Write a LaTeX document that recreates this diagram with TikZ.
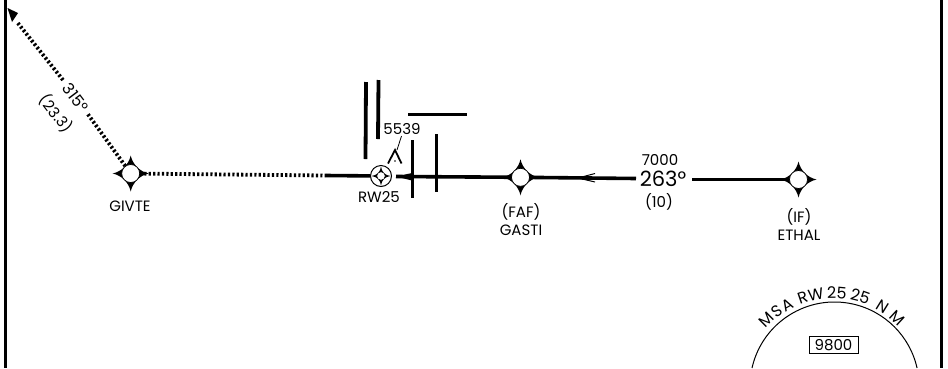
\documentclass[tikz,border=0pt]{standalone}
\usepackage{fontspec}
\setmainfont{Poppins}
\tikzset{
  x=1pt,y=-1pt,
  lab/.style={inner sep=0pt,align=center,font=\fontsize{15}{18}\selectfont},
  heavy/.style={line width=3.6pt,black},
  dots/.style={line width=3.8pt,dash pattern=on 2.2pt off 2.2pt},
  bar/.style={line width=3.8pt},
  fixwp/.style={circle,inner sep=0pt,minimum size=18pt},
}
\newcommand{\wpt}[3]{%
  \node[fixwp] (#1) at (#2,#3) {};
  \fill[black] (#2-18,#3) .. controls (#2-9,#3-2) and (#2-2,#3-9) .. (#2,#3-18)
    .. controls (#2+2,#3-9) and (#2+9,#3-2) .. (#2+18,#3)
    .. controls (#2+9,#3+2) and (#2+2,#3+9) .. (#2,#3+18)
    .. controls (#2-2,#3+9) and (#2-9,#3+2) .. (#2-18,#3) -- cycle;
  \draw[fill=white,line width=.7pt] (#2,#3) circle (9);
}
\begin{document}
\begin{tikzpicture}
\useasboundingbox (0,0) rectangle (948,368);
% frame
\draw[line width=2.6pt] (5.5,0) -- (5.5,368);
\draw[line width=2.6pt] (941.5,0) -- (941.5,368);
% waypoints
\wpt{givte}{130.7}{173.5}
\wpt{gasti}{520.5}{177.3}
\wpt{ethal}{798.5}{179.5}
\node[circle,inner sep=0pt,minimum size=21pt] (rw) at (381,176) {};
% named free ends
\coordinate (tip) at (7.5,8);
\coordinate (d1) at (17,22);
\coordinate (d2) at (63,80);
\coordinate (d3) at (87,113);
\coordinate (dotend) at (326,175.5);
\coordinate (rwR) at (396,176.5);
\coordinate (gapL) at (636,178.5);
\coordinate (gapR) at (692,179.5);
\coordinate (chev) at (578,178);
% legs
\draw[dots] (givte) -- (dotend);
\draw[dots] (givte) -- (d3);
\draw[dots] (d2) -- (d1);
\fill (tip) -- (18,13) -- (12,22) -- cycle;
\draw[heavy] (dotend) -- (rw);
\draw[heavy] (rwR) -- (gasti);
\fill (rwR) -- (412,173) -- (412,180.5) -- cycle;
\draw[heavy] (gasti) -- (gapL);
\draw[heavy] (gapR) -- (ethal);
\draw[line width=1pt] (chev) -- (595,173.5) (chev) -- (595,182);
% bars
\draw[bar] (366,82) -- (365.5,159);
\draw[bar] (378.5,80) -- (378,139);
\draw[bar] (408,114.5) -- (467,114.5);
\draw[bar] (412.5,140) -- (412.5,198);
\draw[bar] (436.5,134) -- (436.5,192);
% threshold symbol
\draw[line width=1pt,fill=white] (381,176) circle (10.5);
\fill (381,166.5) .. controls (381.7,172) and (385,175.3) .. (390.5,176)
  .. controls (385,176.7) and (381.7,180) .. (381,185.5)
  .. controls (380.3,180) and (377,176.7) .. (371.5,176)
  .. controls (377,175.3) and (380.3,172) .. (381,166.5) -- cycle;
\draw[fill=white,line width=.5pt] (381,176) circle (4.2);
% spot elevation
\draw[line width=1.8pt] (388,163.5) -- (395,150) -- (401.5,163.5);
\fill (395,161) circle (.8);
\draw[line width=.8pt] (401.5,136) -- (397,150);
% labels
\node[lab] (l5539) at (402,129) {5539};
\node[lab] (lrw) at (379,196.7) {RW25};
\node[lab] (lgivte) at (130,206.7) {GIVTE};
\node[lab] (lgasti) at (521,220) {(FAF)\\GASTI};
\node[lab] (lethal) at (799,224) {(IF)\\ETHAL};
\node[lab] (l7000) at (660,160) {7000};
\node[inner sep=0pt,font=\fontsize{21}{21}\selectfont] (l263) at (663,179) {263°};
\node[lab] (l10) at (659,202) {(10)};
\node[lab,rotate=-53,font=\fontsize{16}{18}\selectfont] (l315) at (75.5,97.5) {315°};
\node[lab,rotate=-53] (l233) at (56,113.5) {(23.3)};
% MSA
\draw[line width=1pt] (752,368) arc[start angle=192.7,end angle=347.3,radius=84.6];
\node[draw,line width=.7pt,inner sep=0pt,minimum width=49pt,minimum height=17pt,font=\fontsize{15}{15}\selectfont] (box) at (833.5,344.7) {9800};
\foreach \t/\a in {M/-44.9,S/-36.5,A/-29.2,R/-18.9,W/-10.5,2/-0.8,5/5.3,2/13.9,5/19.7,N/31.7,M/42.8}{
  \node[inner sep=0pt,rotate=-\a,font=\fontsize{16}{16}\selectfont] at ({833+94*sin(\a)},{386.6-94*cos(\a)}) {\t};
}
\end{tikzpicture}
\end{document}
